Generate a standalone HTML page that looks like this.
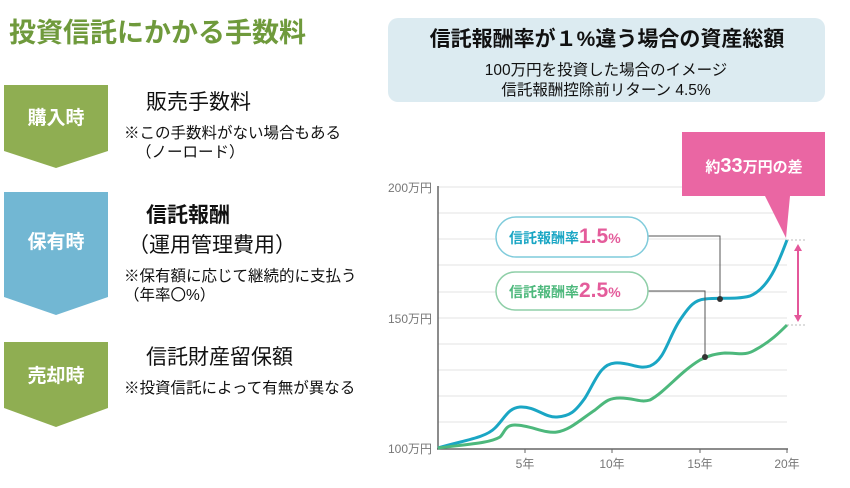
<!DOCTYPE html>
<html><head><meta charset="utf-8"><style>
body{margin:0;background:#fff;}
svg{display:block;font-family:"Liberation Sans","Noto Sans CJK JP",sans-serif;}
</style></head><body>
<svg width="850" height="488" viewBox="0 0 850 488" xmlns="http://www.w3.org/2000/svg">
<text x="9" y="42" font-size="27" font-weight="bold" fill="#6f9a3c">投資信託にかかる手数料</text>
<polygon points="4,85 108,85 108,151 56,168 4,151" fill="#8fae52"/>
<text x="56" y="124" font-size="19" font-weight="bold" fill="#fff" text-anchor="middle">購入時</text>
<polygon points="4,192 108,192 108,297 56,315 4,297" fill="#72b7d3"/>
<text x="56" y="248" font-size="19" font-weight="bold" fill="#fff" text-anchor="middle">保有時</text>
<polygon points="4,342 108,342 108,408 56,427 4,408" fill="#8fae52"/>
<text x="56" y="382" font-size="19" font-weight="bold" fill="#fff" text-anchor="middle">売却時</text>
<text x="146" y="109" font-size="21" fill="#111">販売手数料</text>
<text x="124" y="138" font-size="15.5" fill="#111">※この手数料がない場合もある</text>
<text x="136" y="157" font-size="15.5" fill="#111">（ノーロード）</text>
<text x="146" y="222" font-size="21" font-weight="bold" fill="#111">信託報酬</text>
<text x="128" y="252" font-size="21" fill="#111">（運用管理費用）</text>
<text x="124" y="281" font-size="15.5" fill="#111">※保有額に応じて継続的に支払う</text>
<text x="124" y="300" font-size="15.5" fill="#111">（年率〇%）</text>
<text x="146" y="364" font-size="21" fill="#111">信託財産留保額</text>
<text x="124" y="393" font-size="15.5" fill="#111">※投資信託によって有無が異なる</text>
<rect x="388" y="18" width="437" height="84" rx="10" fill="#dcebf1"/>
<text x="607" y="46" font-size="21" font-weight="bold" fill="#111" text-anchor="middle">信託報酬率が１%違う場合の資産総額</text>
<text x="606" y="75" font-size="15.5" fill="#111" text-anchor="middle">100万円を投資した場合のイメージ</text>
<text x="606" y="95" font-size="15.5" fill="#111" text-anchor="middle">信託報酬控除前リターン 4.5%</text>
<g stroke="#e3e3e3" stroke-width="1">
<line x1="438" y1="187" x2="787" y2="187"/><line x1="438" y1="213" x2="787" y2="213"/>
<line x1="438" y1="239" x2="787" y2="239"/><line x1="438" y1="265" x2="787" y2="265"/>
<line x1="438" y1="292" x2="787" y2="292"/><line x1="438" y1="318" x2="787" y2="318"/>
<line x1="438" y1="344" x2="787" y2="344"/><line x1="438" y1="370" x2="787" y2="370"/>
<line x1="438" y1="396" x2="787" y2="396"/><line x1="438" y1="422" x2="787" y2="422"/>
</g>
<line x1="438" y1="186" x2="438" y2="449" stroke="#666" stroke-width="1.5"/>
<line x1="437" y1="449" x2="788" y2="449" stroke="#666" stroke-width="1.5"/>
<g stroke="#666"><line x1="525" y1="449" x2="525" y2="453"/><line x1="612" y1="449" x2="612" y2="453"/><line x1="700" y1="449" x2="700" y2="453"/><line x1="787" y1="449" x2="787" y2="453"/></g>
<g font-size="12" fill="#777">
<text x="432" y="192" text-anchor="end">200万円</text>
<text x="432" y="323" text-anchor="end">150万円</text>
<text x="432" y="453" text-anchor="end">100万円</text>
<text x="525" y="468" text-anchor="middle">5年</text>
<text x="612" y="468" text-anchor="middle">10年</text>
<text x="700" y="468" text-anchor="middle">15年</text>
<text x="787" y="468" text-anchor="middle">20年</text>
</g>
<path d="M438,448 C465,440 485,438 495,428 C505,418 508,408 520,407 C535,406 545,418 557,417 C570,416 575,412 585,398 C595,382 600,364 615,363 C630,362 638,370 650,366 C665,360 668,338 680,320 C690,305 695,300 705,299 C720,297 735,300 750,296 C770,288 780,258 787,240" fill="none" stroke="#1aa6c4" stroke-width="3"/>
<path d="M438,448 C470,444 490,443 500,437 C505,432 505,425 515,425 C530,425 545,434 557,432 C570,430 580,420 595,410 C605,402 608,398 620,398 C635,398 640,403 650,400 C665,392 680,372 700,360 C710,355 715,354 725,353 C740,353 745,356 755,350 C770,342 780,332 787,325" fill="none" stroke="#4db87c" stroke-width="3"/>
<polyline points="648,236 720,236 720,299" fill="none" stroke="#555" stroke-width="1"/>
<circle cx="720" cy="299" r="3" fill="#333"/>
<polyline points="648,291 705,291 705,357" fill="none" stroke="#555" stroke-width="1"/>
<circle cx="705" cy="357" r="3" fill="#333"/>
<rect x="496" y="217" width="152" height="40" rx="20" fill="#fff" stroke="#7fcbdb" stroke-width="1.5"/>
<text x="509" y="243" font-size="14" font-weight="bold" fill="#1aa6c4">信託報酬率<tspan font-size="21" fill="#e45c9b">1.5</tspan><tspan font-size="14" fill="#e45c9b">%</tspan></text>
<rect x="496" y="272" width="152" height="38" rx="19" fill="#fff" stroke="#8fcfa8" stroke-width="1.5"/>
<text x="509" y="297" font-size="14" font-weight="bold" fill="#4db87c">信託報酬率<tspan font-size="21" fill="#e45c9b">2.5</tspan><tspan font-size="14" fill="#e45c9b">%</tspan></text>
<line x1="787" y1="240" x2="806" y2="240" stroke="#bbb" stroke-dasharray="2,2"/>
<line x1="787" y1="325" x2="806" y2="325" stroke="#bbb" stroke-dasharray="2,2"/>
<line x1="798" y1="248" x2="798" y2="318" stroke="#e4579a" stroke-width="2"/>
<polygon points="798,244 794,251 802,251" fill="#e4579a"/>
<polygon points="798,322 794,315 802,315" fill="#e4579a"/>
<polygon points="682,132 825,132 825,196 790,196 786,238 765,196 682,196" fill="#ea66a3"/>
<text x="754" y="172" font-size="15" font-weight="bold" fill="#fff" text-anchor="middle">約<tspan font-size="20">33</tspan>万円の差</text>
</svg>
</body></html>
